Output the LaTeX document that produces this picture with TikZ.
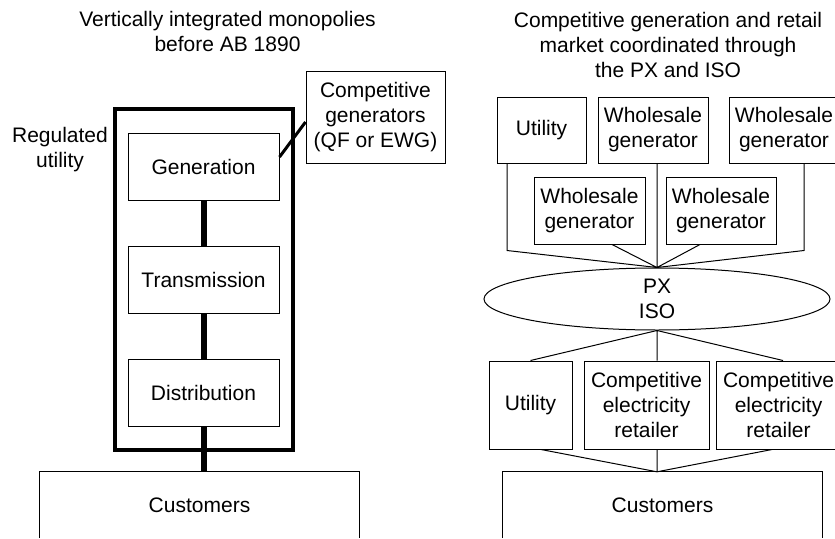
\documentclass[tikz,border=0pt]{standalone}
\usepackage{fontspec}
\setmainfont{Liberation Sans}
\usetikzlibrary{shapes.geometric}
\tikzset{
  box/.style={draw, line width=1pt, inner sep=0pt, align=center},
  stage/.style={box, minimum width=151pt, minimum height=67pt},
  heavy/.style={line width=6pt},
  link/.style={line width=1pt}
}
\begin{document}
\begin{tikzpicture}[x=1pt, y=-1pt, font=\fontsize{21}{25}\selectfont]
            \useasboundingbox (0,0) rectangle (835,538);

            \node[align=center] (lefttitle) at (227.5,31) {Vertically integrated monopolies\\before AB 1890};
            \node[align=center] (regulated) at (60,150) {Regulated\\utility};
            \node[draw, line width=4pt, minimum width=177.5pt, minimum height=341pt] (utilbox) at (203.75,279.5) {};
            \node[stage] (gen) at (203.5,166.5) {Generation};
            \node[stage] (trans) at (203.5,279.5) {Transmission};
            \node[stage] (dist) at (203.5,392.5) {Distribution};
            \node[box, minimum width=139pt, minimum height=92pt] (compgen) at (375.5,117) {Competitive\\generators\\(QF or EWG)};
            \node[inner sep=0pt, minimum width=319pt, minimum height=66pt] (custL) at (199.5,505) {Customers};

            \draw[link] (custL.south west) |- (custL.north) -| (custL.south east);
            \draw[heavy] (gen) -- (trans)
                         (trans) -- (dist)
                         (dist.south) -- (dist.south |- custL.north);
            \draw[line width=3pt] ([yshift=9.5pt]gen.east) -- ([yshift=-5pt]compgen.west);

            \node[align=center] (righttitle) at (668,44.5) {Competitive generation and retail\\market coordinated through\\the PX and ISO};
            \node[box, minimum width=89pt, minimum height=66pt] (util1) at (541.5,130) {Utility};
            \node[box, minimum width=110pt, minimum height=66pt] (whole1) at (653,130) {Wholesale\\generator};
            \node[box, minimum width=110pt, minimum height=66pt] (whole2) at (784,130) {Wholesale\\generator};
            \node[box, minimum width=111pt, minimum height=67pt] (whole3) at (589.5,210.5) {Wholesale\\generator};
            \node[box, minimum width=110pt, minimum height=67pt] (whole4) at (721,210.5) {Wholesale\\generator};
            \node[box, ellipse, minimum width=346pt, minimum height=62pt] (px) at (657,299) {PX\\ISO};
            \node[box, minimum width=83pt, minimum height=88pt] (util2) at (530.5,405) {Utility};
            \node[box, minimum width=125pt, minimum height=88pt] (retail1) at (646.5,405) {Competitive\\electricity\\retailer};
            \node[box, minimum width=125pt, minimum height=88pt] (retail2) at (778.5,405) {Competitive\\electricity\\retailer};
            \node[inner sep=0pt, minimum width=319pt, minimum height=66pt] (custR) at (662.5,505) {Customers};

            \draw[link] ([xshift=-34.5pt]util1.south) -- ++(0,87) -- (px.north)
                        ([xshift=20pt]whole2.south) -- ++(0,87) -- (px.north)
                        (whole1.south -| px.north) -- (px.north)
                        ([xshift=22.5pt]whole3.south) -- (px.north)
                        ([xshift=-21pt]whole4.south) -- (px.north);
            \draw[link] (px.south) -- (util2.north)
                        (px.south) -- (px.south |- retail1.north)
                        (px.south) -- ([xshift=4.5pt]retail2.north);
            \draw[link] ([xshift=10.5pt]util2.south) -- (px.south |- custR.north)
                        (px.south |- retail1.south) -- (px.south |- custR.north)
                        ([xshift=-6.5pt]retail2.south) -- (px.south |- custR.north);
            \draw[link] (custR.south west) |- (custR.north) -| (custR.south east);
        \end{tikzpicture}
\end{document}
